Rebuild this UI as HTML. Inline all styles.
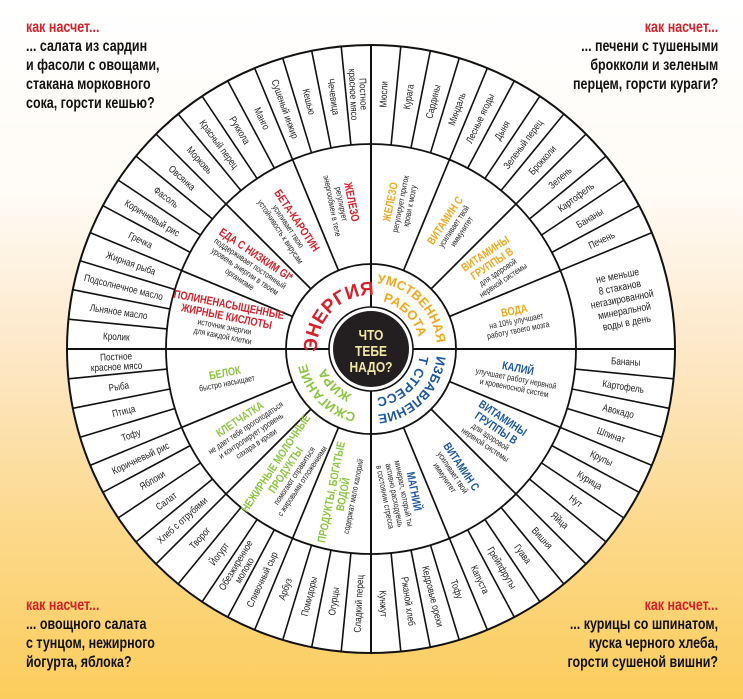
<!DOCTYPE html>
<html><head><meta charset="utf-8">
<style>
html,body{margin:0;padding:0;}
body{width:743px;height:699px;overflow:hidden;position:relative;
background:linear-gradient(to bottom,#ffffff 0%,#fffbf5 28%,#fde8c8 50%,#fcd98c 75%,#fbcd5c 100%);
font-family:"Liberation Sans",sans-serif;}
.note{position:absolute;font-weight:bold;font-size:16px;line-height:19px;color:#111;white-space:nowrap;transform:scaleX(0.78);}
.note .r{color:#d7202a;}
.L{transform-origin:left top;}
.R{transform-origin:right top;text-align:right;}
svg{position:absolute;left:0;top:0;}
</style></head><body>
<div class="note L" style="left:26px;top:18px;"><div class="r">как насчет...</div>... салата из сардин<br>и фасоли с овощами,<br>стакана морковного<br>сока, горсти кешью?</div>
<div class="note R" style="right:25px;top:18px;"><div class="r">как насчет...</div>... печени с тушеными<br>брокколи и зеленым<br>перцем, горсти кураги?</div>
<div class="note L" style="left:26px;top:596px;"><div class="r">как насчет...</div>... овощного салата<br>с тунцом, нежирного<br>йогурта, яблока?</div>
<div class="note R" style="right:25px;top:596px;"><div class="r">как насчет...</div>... курицы со шпинатом,<br>куска черного хлеба,<br>горсти сушеной вишни?</div>
<svg id="s" width="743" height="699" viewBox="0 0 743 699" xmlns="http://www.w3.org/2000/svg" font-family="Liberation Sans, sans-serif"></svg>
<script>
var S=document.getElementById('s'),NS='http://www.w3.org/2000/svg';
var cx=371,cy=349,R1=304,R2=205,R3=85,R4=42;
function el(t,a,p,txt){var e=document.createElementNS(NS,t);for(var k in a)e.setAttribute(k,a[k]);if(txt!==undefined)e.textContent=txt;(p||S).appendChild(e);return e;}
function P(r,a){a=a*Math.PI/180;return [cx+r*Math.cos(a),cy+r*Math.sin(a)];}
el('circle',{cx:cx,cy:cy,r:R1,fill:'#fff',stroke:'#111','stroke-width':2});
el('circle',{cx:cx,cy:cy,r:R2,fill:'none',stroke:'#111','stroke-width':1.8});
el('circle',{cx:cx,cy:cy,r:R3,fill:'none',stroke:'#111','stroke-width':1.8});
el('circle',{cx:cx,cy:cy,r:R4,fill:'none',stroke:'#111','stroke-width':1.6});
function line(r1,r2,a,w){var p=P(r1,a),q=P(r2,a);el('line',{x1:p[0],y1:p[1],x2:q[0],y2:q[1],stroke:'#111','stroke-width':w||1.6});}
for(var i=0;i<64;i++){var a=-180+i*5.625;if(a>-22&&a<-1)continue;line(R2,R1,a);}
for(var i=0;i<16;i++){line(R3,R2,-180+i*22.5,1.7);}
for(var i=0;i<4;i++){line(R4,R1,i*90,2);}
el('circle',{cx:cx,cy:cy,r:38,fill:'#231f20'});
var ct=[['ЧТО',-9],['ТЕБЕ',7],['НАДО?',23]];
ct.forEach(function(c){el('text',{x:0,y:0,'text-anchor':'middle','font-size':15,'font-weight':'bold',fill:'#f3e8a4',transform:'translate('+cx+','+(cy+c[1])+') scale(0.8,1)'},S,c[0]);});
function rot(a){var c=Math.cos(a*Math.PI/180);return c>=-0.001?a:a+180;}
var TL=['Кролик','Льняное масло','Подсолнечное масло','Жирная рыба','Гречка','Коричневый рис','Фасоль','Овсянка','Морковь','Красный перец','Руккола','Манго','Сушеный инжир','Кешью','Чечевица','Постное|красное мясо'];
var TR=['Мюсли','Курага','Сардины','Миндаль','Лесные ягоды','Дыня','Зеленый перец','Брокколи','Зелень','Картофель','Бананы','Печень'];
var BR=['Бананы','Картофель','Авокадо','Шпинат','Крупы','Курица','Нут','Яйца','Вишня','Гуава','Грейпфруты','Капуста','Тофу','Кедровые орехи','Ржаной хлеб','Кунжут'];
var BL=['Сладкий перец','Огурцы','Помидоры','Арбуз','Сливочный сыр','Обезжиренное|молоко','Йогурт','Творог','Хлеб с отрубями','Салат','Яблоки','Коричневый рис','Тофу','Птица','Рыба','Постное|красное мясо'];
function outer(list,start){list.forEach(function(t,i){var a=start+(i+0.5)*5.625,p=P(255,a),r=rot(a);
var g=el('g',{transform:'translate('+p[0]+','+p[1]+') rotate('+r+') scale(0.82,1)'});var ls=t.split('|');
ls.forEach(function(l,j){el('text',{x:0,y:3.5+(j-(ls.length-1)/2)*10,'text-anchor':'middle','font-size':10,fill:'#222'},g,l);});});}
outer(TL,-180);outer(TR,-90);outer(BR,0);outer(BL,90);
(function(){var a=-11.25,p=P(256,a);var g=el('g',{transform:'translate('+p[0]+','+p[1]+') rotate(-11) scale(0.82,1)'});
['не меньше','8 стаканов','негазированной','минеральной','воды в день'].forEach(function(l,j){el('text',{x:0,y:3.5+(j-2)*12,'text-anchor':'middle','font-size':10.5,fill:'#222'},g,l);});})();
var RED='#d7202a',ORA='#f2a81d',BLU='#1b57a3',GRN='#8cc63f';
var MID=[
[-180,RED,['ПОЛИНЕНАСЫЩЕННЫЕ','ЖИРНЫЕ КИСЛОТЫ'],['источник энергии','для каждой клетки']],
[-157.5,RED,['ЕДА С НИЗКИМ GI*'],['поддерживает постоянный','уровень энергии в твоем','организме']],
[-135,RED,['БЕТА-КАРОТИН'],['усиливает твою','устойчивость к вирусам']],
[-112.5,RED,['ЖЕЛЕЗО'],['регулирует','энергообмен в теле']],
[-90,ORA,['ЖЕЛЕЗО'],['регулирует приток','крови к мозгу']],
[-67.5,ORA,['ВИТАМИН С'],['усиливает твой','иммунитет']],
[-45,ORA,['ВИТАМИНЫ','ГРУППЫ В'],['для здоровой','нервной системы']],
[-22.5,ORA,['ВОДА'],['на 10% улучшает','работу твоего мозга']],
[0,BLU,['КАЛИЙ'],['улучшает работу нервной','и кровеносной систем']],
[22.5,BLU,['ВИТАМИНЫ','ГРУППЫ В'],['для здоровой','нервной системы']],
[45,BLU,['ВИТАМИН С'],['усиливает твой','иммунитет']],
[67.5,BLU,['МАГНИЙ'],['минерал, который ты','активно расходуешь','в состоянии стресса']],
[90,GRN,['ПРОДУКТЫ, БОГАТЫЕ','ВОДОЙ'],['содержат мало калорий']],
[112.5,GRN,['НЕЖИРНЫЕ МОЛОЧНЫЕ','ПРОДУКТЫ'],['помогают справиться','с жировыми отложениями']],
[135,GRN,['КЛЕТЧАТКА'],['не дает тебе проголодаться','и контролирует уровень','сахара в крови']],
[157.5,GRN,['БЕЛОК'],['быстро насыщает']]];
MID.forEach(function(m){var a=m[0]+11.25,p=P(148,a),r=rot(a);
var g=el('g',{transform:'translate('+p[0]+','+p[1]+') rotate('+r+') scale(0.8,1)'});
var lines=[];m[2].forEach(function(t){lines.push([t,1]);});m[3].forEach(function(t){lines.push([t,0]);});
var h=0;lines.forEach(function(l){h+=l[1]?12:9.5;});var y=-h/2;
lines.forEach(function(l){var lh=l[1]?12:9.5;y+=lh;el('text',{x:0,y:y-2.5,'text-anchor':'middle','font-size':l[1]?11.5:8.5,'font-weight':l[1]?'bold':'normal',fill:l[1]?m[1]:'#222'},g,l[0]);});});
var defs=el('defs',{});
function arc(id,r,a1,a2){var p=P(r,a1),q=P(r,a2);el('path',{id:id,d:'M'+p[0]+','+p[1]+' A'+r+','+r+' 0 0 1 '+q[0]+','+q[1],fill:'none'},defs);}
function ctext(id,r,a1,a2,txt,col,fs){arc(id,r,a1,a2);var t=el('text',{'font-size':fs,'font-weight':'bold',fill:col,'text-anchor':'middle'});
var tp=el('textPath',{href:'#'+id,startOffset:'50%'},t,txt);tp.setAttributeNS('http://www.w3.org/1999/xlink','xlink:href','#'+id);}
ctext('c1',54,-178,-92,'ЭНЕРГИЯ',RED,19);
ctext('c2',66,-88,-2,'УМСТВЕННАЯ',ORA,13);
ctext('c3',49,-88,-2,'РАБОТА',ORA,13);
ctext('c4',66,2,88,'ИЗБАВЛЕНИЕ',BLU,13);
ctext('c5',49,2,88,'ОТ СТРЕССА',BLU,13);
ctext('c6',66,92,178,'СЖИГАНИЕ',GRN,13);
ctext('c7',49,92,178,'ЖИРА',GRN,13);
</script>
</body></html>
